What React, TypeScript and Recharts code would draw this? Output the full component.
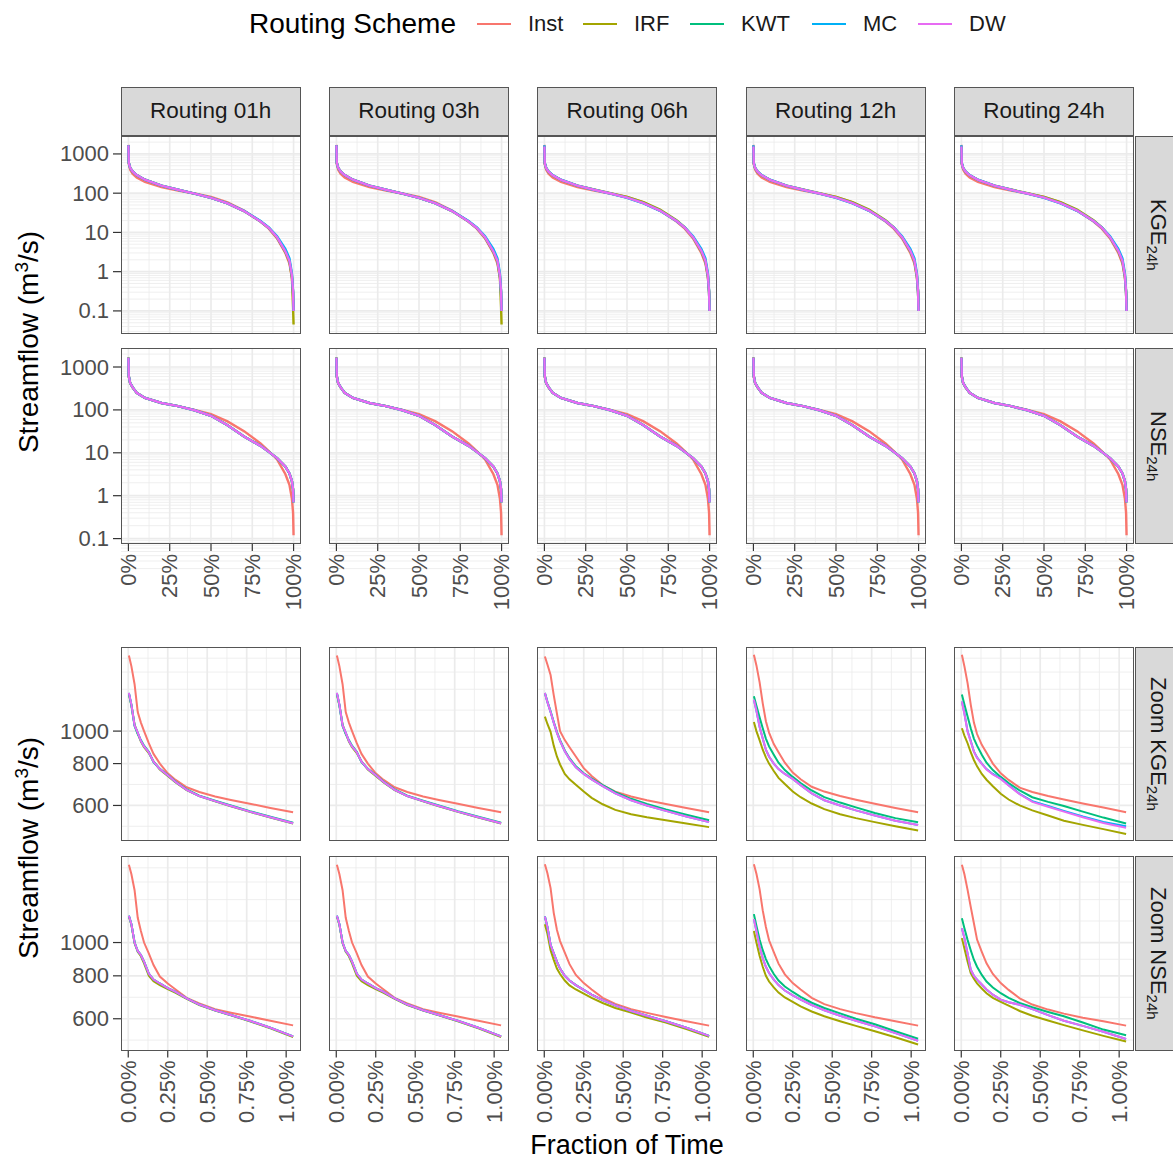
import React from "react"
import { LineChart, Line, XAxis, YAxis, CartesianGrid } from "recharts"

// ---- series / labels ----
const SCHEMES = ["Inst", "IRF", "KWT", "MC", "DW"]
const COLORS = ["#F8766D", "#A3A500", "#00BF7D", "#00B0F6", "#E76BF3"]
const ROUTING = ["Routing 01h", "Routing 03h", "Routing 06h", "Routing 12h", "Routing 24h"]

// fraction of time (%) sampled along the duration curve
const FRAC_FULL = [0, 0.2, 1, 2.5, 5, 10, 20, 30, 40, 50, 60, 70, 80, 85, 90, 95, 97.5, 99, 99.7, 100]
const FRAC_ZOOM = [0.004, 0.02, 0.04, 0.06, 0.08, 0.1, 0.13, 0.16, 0.2, 0.25, 0.3, 0.37, 0.45, 0.55, 0.65, 0.77, 0.9, 1.044]

// full curves, KGE calibration
const kgeInst = [1700, 560, 400, 315, 250, 195, 142, 117, 98, 80, 58, 36, 19, 12.5, 7, 3, 1.6, 0.7, 0.3, 0.1]
const kgeRouted = [1670, 600, 450, 360, 290, 220, 155, 122, 97, 76, 55, 35, 19, 13, 7.5, 3.3, 1.9, 0.8, 0.3, 0.1]
const kgeMc = [1670, 600, 450, 360, 290, 220, 155, 122, 97, 76, 55, 35.5, 19.5, 13.5, 8, 3.8, 2.2, 0.9, 0.32, 0.1]
const kgeIrfShort = [1670, 600, 450, 360, 290, 220, 155, 122, 97, 76, 55, 35, 19, 13, 7.4, 3.2, 1.8, 0.7, 0.12, 0.045]
const kgeRoutedLong = [1560, 580, 440, 355, 285, 218, 155, 122, 98, 77, 56, 36, 19.5, 13.2, 7.6, 3.4, 1.9, 0.8, 0.3, 0.1]
const kgeIrfLong = [1580, 580, 440, 355, 285, 218, 156, 124, 100, 80, 59, 38, 20.5, 13.5, 7.6, 3.3, 1.8, 0.75, 0.3, 0.1]

// full curves, NSE calibration
const nseInst = [1680, 600, 420, 330, 250, 190, 145, 122, 100, 80, 54, 32, 16.5, 11, 7, 3.2, 1.8, 0.85, 0.4, 0.12]
const nseRouted = [1650, 620, 430, 340, 250, 190, 145, 122, 98, 73, 44, 24, 14.5, 10.5, 7.5, 4.8, 3.3, 2.2, 1.4, 0.7]

// zoom (first 1% of time), KGE
const zkInst1 = [1680, 1560, 1380, 1140, 1060, 1000, 920, 855, 800, 748, 715, 680, 658, 638, 623, 607, 590, 573]
const zkRouted1 = [1300, 1200, 1040, 990, 935, 900, 865, 810, 770, 738, 705, 668, 640, 618, 598, 575, 553, 531]
const zkIrf1 = [1290, 1195, 1045, 985, 930, 895, 860, 812, 768, 735, 703, 667, 640, 617, 597, 574, 552, 530]
const zkKwt1 = [1295, 1190, 1035, 980, 940, 905, 868, 808, 772, 740, 706, 670, 642, 620, 600, 577, 555, 533]
const zkInst3 = [1670, 1580, 1470, 1280, 1130, 1000, 940, 895, 840, 775, 735, 690, 660, 638, 622, 606, 590, 573]
const zkRouted3 = [1300, 1220, 1140, 1060, 990, 935, 870, 825, 780, 745, 718, 685, 652, 622, 600, 578, 556, 535]
const zkKwt3 = [1300, 1225, 1145, 1065, 995, 940, 875, 830, 785, 748, 722, 690, 657, 628, 606, 584, 563, 542]
const zkIrf3 = [1105, 1050, 995, 905, 840, 795, 745, 718, 692, 660, 632, 605, 582, 565, 553, 542, 530, 517]
const zkInst4 = [1690, 1570, 1400, 1210, 1070, 990, 915, 865, 805, 752, 718, 682, 660, 640, 624, 607, 590, 573]
const zkKwt4 = [1270, 1190, 1100, 1020, 950, 900, 850, 805, 765, 730, 700, 665, 635, 612, 592, 570, 550, 535]
const zkRouted4 = [1240, 1150, 1030, 950, 880, 840, 800, 770, 745, 720, 690, 652, 622, 600, 580, 560, 540, 525]
const zkIrf4 = [1065, 1000, 940, 880, 835, 800, 760, 725, 695, 660, 635, 608, 585, 565, 550, 535, 520, 505]
const zkInst5 = [1690, 1560, 1390, 1200, 1060, 980, 910, 862, 800, 748, 715, 678, 658, 640, 625, 608, 592, 573]
const zkKwt5 = [1285, 1200, 1105, 1020, 950, 905, 850, 805, 765, 730, 700, 665, 635, 615, 598, 575, 552, 530]
const zkMc5 = [1225, 1130, 1000, 935, 870, 835, 800, 770, 745, 722, 690, 650, 618, 598, 578, 556, 536, 520]
const zkDw5 = [1225, 1125, 995, 930, 868, 832, 798, 768, 742, 720, 688, 648, 615, 595, 575, 553, 532, 515]
const zkIrf5 = [1020, 970, 920, 865, 820, 785, 745, 716, 685, 650, 625, 600, 580, 560, 540, 525, 510, 493]

// zoom, NSE
const znInst1 = [1683, 1580, 1420, 1180, 1080, 1000, 930, 860, 796, 760, 730, 690, 665, 640, 625, 609, 592, 574]
const znRouted1 = [1196, 1130, 1000, 945, 920, 880, 812, 780, 760, 737, 718, 688, 660, 635, 615, 592, 565, 533]
const znIrf1 = [1190, 1125, 995, 940, 912, 870, 800, 772, 752, 732, 714, 686, 658, 634, 614, 590, 563, 531]
const znInst3 = [1690, 1590, 1440, 1220, 1090, 1010, 935, 865, 805, 762, 730, 690, 663, 640, 624, 607, 590, 573]
const znRouted3 = [1190, 1110, 985, 930, 880, 840, 800, 775, 752, 728, 705, 680, 656, 632, 612, 590, 565, 535]
const znIrf3 = [1130, 1060, 950, 890, 840, 810, 775, 750, 730, 710, 690, 667, 645, 625, 605, 585, 560, 532]
const znInst4 = [1690, 1585, 1430, 1240, 1110, 1015, 938, 868, 808, 762, 730, 690, 662, 640, 623, 606, 590, 573]
const znKwt4 = [1210, 1120, 1020, 950, 895, 855, 810, 775, 745, 718, 695, 668, 645, 622, 600, 578, 552, 525]
const znRouted4 = [1170, 1080, 975, 900, 850, 815, 780, 752, 725, 702, 682, 658, 635, 612, 592, 570, 545, 518]
const znIrf4 = [1080, 1000, 915, 850, 800, 770, 740, 715, 692, 672, 652, 630, 610, 590, 572, 552, 530, 505]
const znInst5 = [1683, 1580, 1423, 1270, 1138, 1020, 940, 870, 810, 762, 728, 688, 660, 638, 621, 604, 590, 573]
const znKwt5 = [1177, 1100, 1018, 950, 891, 850, 805, 770, 740, 712, 690, 667, 648, 628, 610, 585, 558, 537]
const znRouted5 = [1101, 1030, 930, 833, 800, 780, 755, 730, 705, 682, 670, 659, 640, 615, 592, 572, 550, 524]
const znIrf5 = [1030, 960, 880, 815, 785, 760, 735, 712, 690, 672, 655, 632, 612, 593, 575, 555, 535, 515]

// per facet row: [Inst, IRF, KWT, MC, DW] for each routing column
const ROW_KGE = [
  [kgeInst, kgeIrfShort, kgeRouted, kgeMc, kgeRouted],
  [kgeInst, kgeIrfShort, kgeRouted, kgeMc, kgeRouted],
  [kgeInst, kgeIrfLong, kgeRoutedLong, kgeMc, kgeRoutedLong],
  [kgeInst, kgeIrfLong, kgeRoutedLong, kgeMc, kgeRoutedLong],
  [kgeInst, kgeIrfLong, kgeRoutedLong, kgeMc, kgeRoutedLong],
]
const ROW_NSE = [
  [nseInst, nseRouted, nseRouted, nseRouted, nseRouted],
  [nseInst, nseRouted, nseRouted, nseRouted, nseRouted],
  [nseInst, nseRouted, nseRouted, nseRouted, nseRouted],
  [nseInst, nseRouted, nseRouted, nseRouted, nseRouted],
  [nseInst, nseRouted, nseRouted, nseRouted, nseRouted],
]
const ROW_ZKGE = [
  [zkInst1, zkIrf1, zkKwt1, zkRouted1, zkRouted1],
  [zkInst1, zkIrf1, zkKwt1, zkRouted1, zkRouted1],
  [zkInst3, zkIrf3, zkKwt3, zkRouted3, zkRouted3],
  [zkInst4, zkIrf4, zkKwt4, zkRouted4, zkRouted4],
  [zkInst5, zkIrf5, zkKwt5, zkMc5, zkDw5],
]
const ROW_ZNSE = [
  [znInst1, znIrf1, znRouted1, znRouted1, znRouted1],
  [znInst1, znIrf1, znRouted1, znRouted1, znRouted1],
  [znInst3, znIrf3, znRouted3, znRouted3, znRouted3],
  [znInst4, znIrf4, znKwt4, znRouted4, znRouted4],
  [znInst5, znIrf5, znKwt5, znRouted5, znRouted5],
]

// axis breaks
const FULL_X_MAJOR = [0, 25, 50, 75, 100]
const FULL_X_MINOR = [12.5, 37.5, 62.5, 87.5]
const ZOOM_X_MAJOR = [0, 0.25, 0.5, 0.75, 1]
const ZOOM_X_MINOR = [0.125, 0.375, 0.625, 0.875]
const FULL_Y_MAJOR = [0.1, 1, 10, 100, 1000]
const FULL_Y_MINOR = [0.01, 0.1, 1, 10, 100, 1000].flatMap((d) => [2, 3, 4, 5, 6, 7, 8, 9].map((m) => +(m * d).toPrecision(2)))
const ZOOM_Y_MAJOR = [600, 800, 1000]
const ZOOM_Y_MINOR = [520, 693, 894, 1155, 1333, 1500, 1650]

const FONT = "'Liberation Sans', Arial, Helvetica, sans-serif"
const COL_LEFT = [120.7, 329, 537.3, 745.6, 954]
const PANEL_W = 180
const Y_AXIS_W = 90
const X_AXIS_H = 95
const PAD = 18 // side room so rotated tick labels are not clipped

type PanelProps = {
  left: number
  top: number
  h: number
  frac: number[]
  series: number[][]
  xDomain: [number, number]
  yDomain: [number, number]
  xMajor: number[]
  xMinor: number[]
  yMajor: number[]
  yMinor: number[]
  showY: boolean
  showX: boolean
  lineW: number
  xFmt: (v: number) => string
}

function Panel(p: PanelProps) {
  const data = p.frac.map((x, i) => {
    const row: Record<string, number> = { x }
    SCHEMES.forEach((s, k) => (row[s] = p.series[k][i]))
    return row
  })
  const yw = p.showY ? Y_AXIS_W : 0
  const xh = p.showX ? X_AXIS_H : 0
  return (
    <div style={{ position: "absolute", left: p.left - yw - PAD, top: p.top }}>
      <LineChart
        width={PANEL_W + yw + 2 * PAD}
        height={p.h + xh}
        data={data}
        margin={{ top: 0, right: PAD, bottom: 0, left: PAD }}
      >
        <CartesianGrid horizontalValues={p.yMinor} verticalValues={p.xMinor} stroke="#ebebeb" strokeWidth={0.8} />
        <CartesianGrid horizontalValues={p.yMajor} verticalValues={p.xMajor} stroke="#ebebeb" strokeWidth={1.7} />
        <XAxis
          dataKey="x"
          type="number"
          domain={p.xDomain}
          allowDataOverflow
          ticks={p.xMajor}
          interval={0}
          hide={!p.showX}
          height={X_AXIS_H}
          axisLine={false}
          tickLine={{ stroke: "#333", strokeWidth: 1.2 }}
          tickSize={7}
          tickMargin={3}
          tick={(t: any) => (
            <text
              x={t.x}
              y={t.y}
              transform={`rotate(-90, ${t.x}, ${t.y})`}
              textAnchor="end"
              dominantBaseline="central"
              fontSize={22}
              fontFamily={FONT}
              fill="#4d4d4d"
            >
              {p.xFmt(t.payload.value)}
            </text>
          )}
        />
        <YAxis
          type="number"
          scale="log"
          domain={p.yDomain}
          allowDataOverflow
          ticks={p.yMajor}
          interval={0}
          hide={!p.showY}
          width={Y_AXIS_W}
          axisLine={false}
          tickLine={{ stroke: "#333", strokeWidth: 1.2 }}
          tickSize={8}
          tickMargin={4}
          tick={(t: any) => (
            <text x={t.x} y={t.y} textAnchor="end" dominantBaseline="central" fontSize={22} fontFamily={FONT} fill="#4d4d4d">
              {String(t.payload.value)}
            </text>
          )}
        />
        {SCHEMES.map((s, k) => (
          <Line key={s} dataKey={s} stroke={COLORS[k]} strokeWidth={p.lineW} dot={false} isAnimationActive={false} />
        ))}
      </LineChart>
      <div
        style={{
          position: "absolute",
          left: yw + PAD,
          top: 0,
          width: PANEL_W,
          height: p.h,
          border: "1.3px solid #555",
          boxSizing: "border-box",
          pointerEvents: "none",
        }}
      />
    </div>
  )
}

const ROWS = [
  { key: "kge", top: 135.5, h: 198, data: ROW_KGE, zoom: false, showX: false, yDomain: [0.0258, 2864] as [number, number], strip: "KGE", pre: "" },
  { key: "nse", top: 348.3, h: 196, data: ROW_NSE, zoom: false, showX: true, yDomain: [0.0748, 2773] as [number, number], strip: "NSE", pre: "" },
  { key: "zkge", top: 646.7, h: 194, data: ROW_ZKGE, zoom: true, showX: false, yDomain: [470, 1782] as [number, number], strip: "KGE", pre: "Zoom " },
  { key: "znse", top: 856.2, h: 194.5, data: ROW_ZNSE, zoom: true, showX: true, yDomain: [485, 1786] as [number, number], strip: "NSE", pre: "Zoom " },
]

const LEGEND_X = [477, 583, 690, 812, 918]

function YTitle({ cy }: { cy: number }) {
  return (
    <div
      style={{
        position: "absolute",
        left: 29,
        top: cy,
        transform: "translate(-50%, -50%) rotate(-90deg)",
        whiteSpace: "nowrap",
        fontSize: 28,
        fontFamily: FONT,
        color: "#000",
      }}
    >
      Streamflow (m<sup style={{ fontSize: 19, verticalAlign: 10, lineHeight: 0 }}>3</sup>/s)
    </div>
  )
}

export default function App() {
  return (
    <div style={{ position: "absolute", left: 0, top: 0, width: 1173, height: 1161, overflow: "hidden", background: "#fff", fontFamily: FONT }}>
      {/* legend */}
      <div style={{ position: "absolute", left: 249, top: 8, fontSize: 28, lineHeight: "32px", color: "#000" }}>Routing Scheme</div>
      {SCHEMES.map((s, k) => (
        <React.Fragment key={s}>
          <div style={{ position: "absolute", left: LEGEND_X[k], top: 23, width: 34, height: 2, background: COLORS[k] }} />
          <div style={{ position: "absolute", left: LEGEND_X[k] + 51, top: 10, fontSize: 22, lineHeight: "28px", color: "#1a1a1a" }}>{s}</div>
        </React.Fragment>
      ))}

      {/* column strips */}
      {ROUTING.map((r, c) => (
        <div
          key={r}
          style={{
            position: "absolute",
            left: COL_LEFT[c],
            top: 87,
            width: PANEL_W,
            height: 48.5,
            background: "#d9d9d9",
            border: "1.3px solid #555",
            boxSizing: "border-box",
            display: "flex",
            alignItems: "center",
            justifyContent: "center",
            fontSize: 22.5,
            color: "#1a1a1a",
          }}
        >
          {r}
        </div>
      ))}

      {/* panels */}
      {ROWS.map((row) =>
        row.data.map((series, c) => (
          <Panel
            key={row.key + c}
            left={COL_LEFT[c]}
            top={row.top}
            h={row.h}
            frac={row.zoom ? FRAC_ZOOM : FRAC_FULL}
            series={series}
            xDomain={row.zoom ? [-0.046, 1.094] : [-4.5, 104.5]}
            yDomain={row.yDomain}
            xMajor={row.zoom ? ZOOM_X_MAJOR : FULL_X_MAJOR}
            xMinor={row.zoom ? ZOOM_X_MINOR : FULL_X_MINOR}
            yMajor={row.zoom ? ZOOM_Y_MAJOR : FULL_Y_MAJOR}
            yMinor={row.zoom ? ZOOM_Y_MINOR : FULL_Y_MINOR}
            showY={c === 0}
            showX={row.showX}
            lineW={row.zoom ? 2 : 2.4}
            xFmt={row.zoom ? (v) => v.toFixed(2) + "%" : (v) => v + "%"}
          />
        ))
      )}

      {/* row strips */}
      {ROWS.map((row) => (
        <div
          key={"s" + row.key}
          style={{
            position: "absolute",
            left: 1134.7,
            top: row.top,
            width: 48,
            height: row.h,
            background: "#d9d9d9",
            border: "1.3px solid #555",
            boxSizing: "border-box",
            display: "flex",
            alignItems: "center",
            justifyContent: "center",
          }}
        >
          <div style={{ writingMode: "vertical-rl", fontSize: 22, color: "#1a1a1a", whiteSpace: "nowrap", marginRight: 2 }}>
            {row.pre}
            {row.strip}
            <sub style={{ fontSize: 15 }}>24h</sub>
          </div>
        </div>
      ))}

      <YTitle cy={342} />
      <YTitle cy={848} />
      <div
        style={{
          position: "absolute",
          left: 627,
          top: 1145,
          transform: "translate(-50%, -50%)",
          fontSize: 27,
          lineHeight: "28px",
          whiteSpace: "nowrap",
          color: "#000",
        }}
      >
        Fraction of Time
      </div>
    </div>
  )
}
